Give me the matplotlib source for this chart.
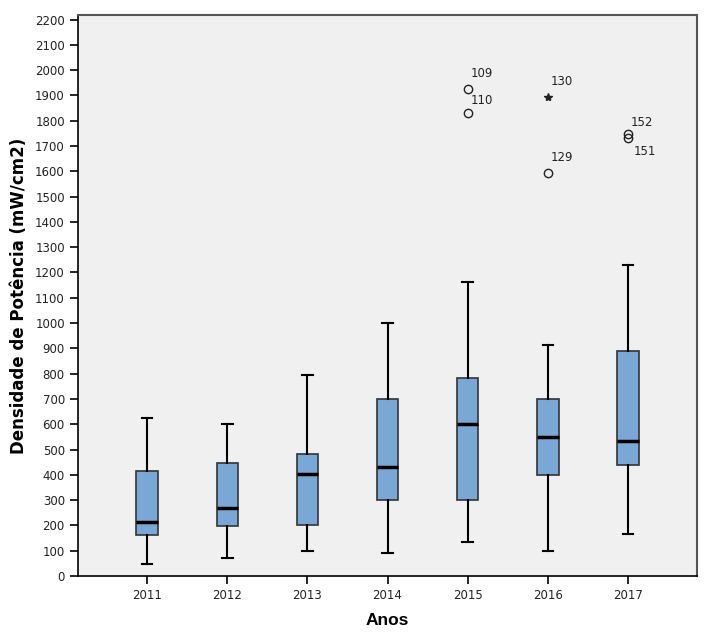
import matplotlib
matplotlib.use("Agg")
import matplotlib.pyplot as plt

years = ["2011", "2012", "2013", "2014", "2015", "2016", "2017"]
whislo = [49, 70, 99, 90, 135, 99, 165]
q1 = [161, 199, 202, 300, 300, 398, 439]
med = [215, 270, 405, 429, 600, 549, 532]
q3 = [415, 446, 483, 700, 781, 700, 890]
whishi = [624, 601, 794, 1000, 1163, 913, 1229]

# outliers: (year index, value, case label, marker, label offset in points)
out_year = [4, 4, 5, 5, 6, 6]
out_val = [1927, 1829, 1894, 1595, 1749, 1732]
out_lab = ["109", "110", "130", "129", "152", "151"]
out_mark = ["o", "o", "*", "o", "o", "o"]
out_off = [(2, 11), (2, 9), (2, 11), (2, 11), (2, 8), (4, -10)]

fig = plt.figure(figsize=(7.13, 6.4), dpi=100)
ax = fig.add_axes([78/713, 64/640, (697.5-78)/713, (576-15)/640])
ax.set_facecolor("#f0f0f0")

stats = []
for i in range(len(years)):
    stats.append(dict(whislo=whislo[i], q1=q1[i], med=med[i], q3=q3[i],
                      whishi=whishi[i], fliers=[]))
pos = list(range(len(years)))
ax.bxp(stats, positions=pos, widths=0.27, patch_artist=True, showfliers=False,
       boxprops=dict(facecolor="#7aa8d6", edgecolor="#333333", linewidth=1.2),
       medianprops=dict(color="black", linewidth=2.5),
       whiskerprops=dict(color="black", linewidth=1.5),
       capprops=dict(color="black", linewidth=1.5),
       capwidths=0.13)

for yi, v, lab, m, off in zip(out_year, out_val, out_lab, out_mark, out_off):
    if m == "o":
        ax.plot(yi, v, marker="o", markersize=6, markerfacecolor="none",
                markeredgecolor="#222222", markeredgewidth=1.0, linestyle="none")
    else:
        ax.plot(yi, v, marker="*", markersize=6, color="#222222", linestyle="none")
    ax.annotate(lab, (yi, v), xytext=off, textcoords="offset points",
                fontsize=8.5, color="#222222", ha="left", va="center")

ax.set_xlim(-0.865, 6.87)
ax.set_ylim(0, 2218)
ax.set_yticks(range(0, 2201, 100))
ax.set_xticks(pos)
ax.set_xticklabels(years)
ax.tick_params(axis="both", labelsize=8.5, colors="black", length=6, width=1.2,
               labelcolor="#222222")
for s in ["left", "bottom"]:
    ax.spines[s].set_color("black")
    ax.spines[s].set_linewidth(1.2)
for s in ["top", "right"]:
    ax.spines[s].set_color("#555555")
    ax.spines[s].set_linewidth(1.5)

ax.set_xlabel("Anos", fontsize=12.5, fontweight="bold", family="Liberation Sans",
              labelpad=8)
ax.set_ylabel("Densidade de Potência (mW/cm2)", fontsize=12, fontweight="bold",
              family="DejaVu Sans", labelpad=5)

fig.savefig("out.png", dpi=100, facecolor="white")
